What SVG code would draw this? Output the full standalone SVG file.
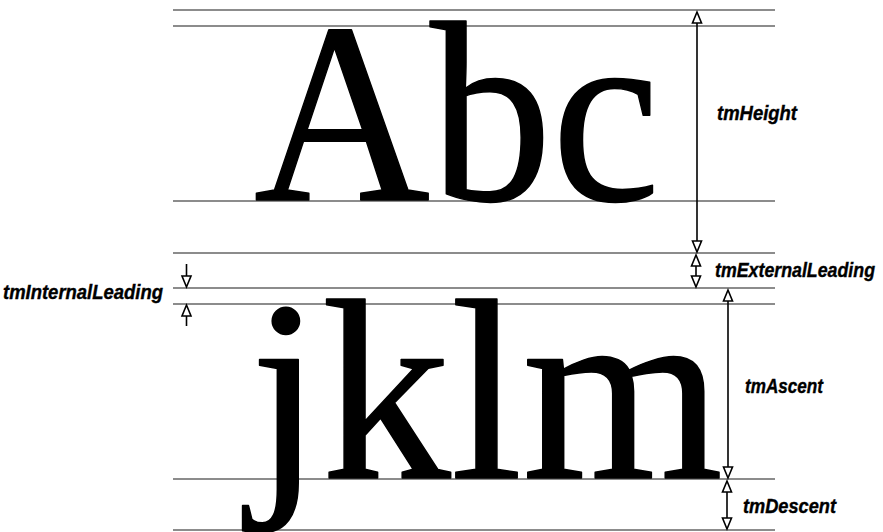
<svg xmlns="http://www.w3.org/2000/svg" width="883" height="532" viewBox="0 0 883 532">
<style>
.rule{stroke:#8c8c8c;stroke-width:2;fill:none}
.shaft{stroke:#000;stroke-width:1.6;fill:none}
.head{fill:#fff;stroke:#000;stroke-width:1.6;stroke-linejoin:miter}
.big{font-family:"Liberation Serif","Times New Roman",serif;font-size:258px;fill:#000;stroke:#000;stroke-width:1.5;stroke-linejoin:round}
.lbl{font-family:"Liberation Sans",Arial,sans-serif;font-weight:bold;font-style:italic;font-size:21px;fill:#000;stroke:#000;stroke-width:0.4}
</style>
<rect width="883" height="532" fill="#fff"/>
<g id="rules">
<line class="rule" x1="173" y1="10" x2="775" y2="10"/>
<line class="rule" x1="173" y1="26" x2="775" y2="26"/>
<line class="rule" x1="173" y1="201" x2="775" y2="201"/>
<line class="rule" x1="173" y1="253" x2="775" y2="253"/>
<line class="rule" x1="173" y1="288" x2="775" y2="288"/>
<line class="rule" x1="173" y1="304" x2="775" y2="304"/>
<line class="rule" x1="173" y1="479" x2="775" y2="479"/>
<line class="rule" x1="173" y1="530" x2="775" y2="530"/>
</g>
<g id="sample-abc"><text class="big" x="254" y="200" textLength="406" lengthAdjust="spacingAndGlyphs">Abc</text></g>
<g id="sample-jklm"><text class="big" x="250" y="478">jklm</text></g>
<g id="connectors">
<line class="shaft" x1="697" y1="23" x2="697" y2="241"/>
<polygon class="head" points="697,12 692.5,23 701.5,23"/>
<polygon class="head" points="697,252 692.5,241 701.5,241"/>
<line class="shaft" x1="696" y1="266" x2="696" y2="276"/>
<polygon class="head" points="696,255 691.5,266 700.5,266"/>
<polygon class="head" points="696,287 691.5,276 700.5,276"/>
<line class="shaft" x1="186.5" y1="264" x2="186.5" y2="276"/>
<polygon class="head" points="186.5,287 182,276 191,276"/>
<line class="shaft" x1="186.5" y1="316" x2="186.5" y2="326"/>
<polygon class="head" points="186.5,305 182,316 191,316"/>
<line class="shaft" x1="728" y1="301" x2="728" y2="467"/>
<polygon class="head" points="728,290 723.5,301 732.5,301"/>
<polygon class="head" points="728,478 723.5,467 732.5,467"/>
<line class="shaft" x1="727" y1="492" x2="727" y2="518"/>
<polygon class="head" points="727,481 722.5,492 731.5,492"/>
<polygon class="head" points="727,529 722.5,518 731.5,518"/>
</g>
<g id="label-height"><text class="lbl" x="717" y="120" textLength="80" lengthAdjust="spacingAndGlyphs">tmHeight</text></g>
<g id="label-external"><text class="lbl" x="715" y="277" textLength="160" lengthAdjust="spacingAndGlyphs">tmExternalLeading</text></g>
<g id="label-internal"><text class="lbl" x="3" y="299" textLength="160" lengthAdjust="spacingAndGlyphs">tmInternalLeading</text></g>
<g id="label-ascent"><text class="lbl" x="745" y="393" textLength="78" lengthAdjust="spacingAndGlyphs">tmAscent</text></g>
<g id="label-descent"><text class="lbl" x="743" y="513" textLength="93" lengthAdjust="spacingAndGlyphs">tmDescent</text></g>
</svg>
